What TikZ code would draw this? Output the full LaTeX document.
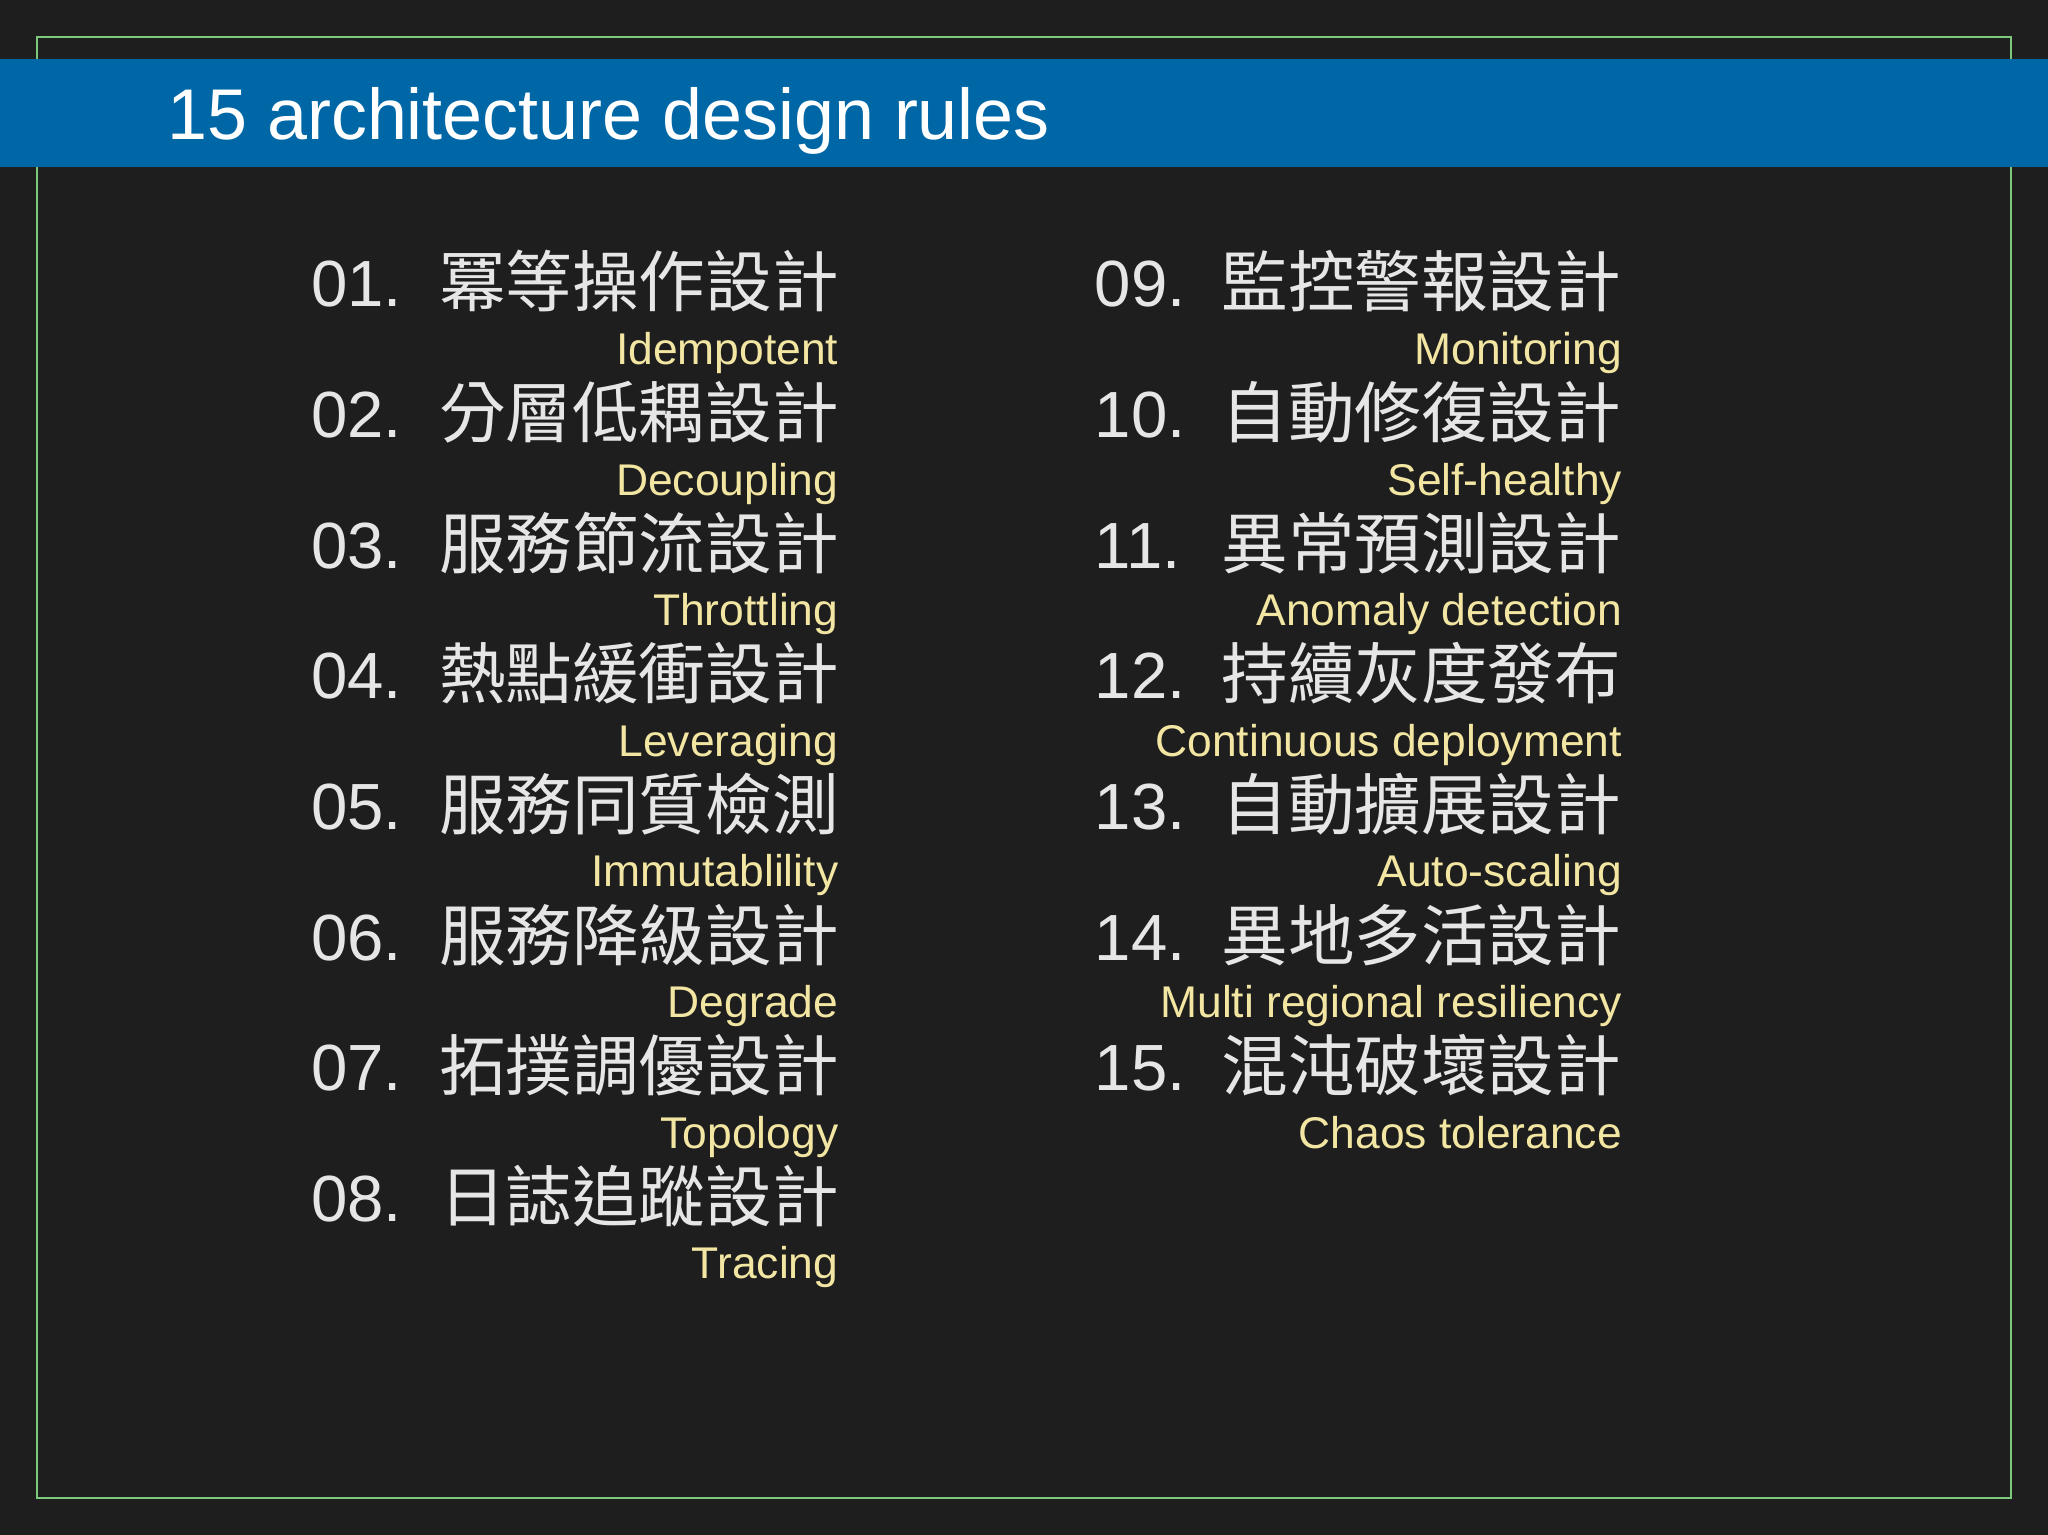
\documentclass[tikz,border=0pt]{standalone}
\usepackage{fontspec}
\setmainfont{Liberation Sans}
\newfontfamily\cjk{Noto Sans CJK TC}
\definecolor{bg}{HTML}{1E1E1F}
\definecolor{bar}{HTML}{0067A7}
\definecolor{frame}{HTML}{7CC87C}
\definecolor{num}{HTML}{E6E6E6}
\definecolor{eng}{HTML}{F2E6A2}
\begin{document}
\begin{tikzpicture}[x=1pt,y=-1pt,
  numtxt/.style={anchor=base west,inner sep=0,text=num,font=\fontsize{50}{50}\selectfont},
  zhtxt/.style={anchor=base west,inner sep=0,text=num,font=\cjk\fontsize{51}{51}\selectfont},
  entxt/.style={anchor=base east,inner sep=0,text=eng,font=\fontsize{34}{34}\selectfont}]
\fill[bg] (0,0) rectangle (1568,1175);
\useasboundingbox (0,0) rectangle (1568,1175);
\draw[frame,line width=1.5pt] (28,28) rectangle (1540,1147);
\fill[bar] (0,45) rectangle (1568,128);
\node[anchor=base west,inner sep=0,text=white,font=\fontsize{55}{55}\selectfont] (title) at (128,107) {15 architecture design rules};
\foreach \i/\n/\z/\e in {0/01./冪等操作設計/Idempotent,1/02./分層低耦設計/Decoupling,2/03./服務節流設計/Throttling,3/04./熱點緩衝設計/Leveraging,4/05./服務同質檢測/Immutablility,5/06./服務降級設計/Degrade,6/07./拓撲調優設計/Topology,7/08./日誌追蹤設計/Tracing}{
  \node[numtxt] (ln\i) at (238,{235+100*\i}) {\n};
  \node[zhtxt] (lz\i) at (336,{235+100*\i}) {\z};
  \node[entxt] (le\i) at (642,{279+100*\i}) {\e};
}
\foreach \i/\n/\z/\e in {0/09./監控警報設計/Monitoring,1/10./自動修復設計/Self-healthy,2/11./異常預測設計/Anomaly detection,3/12./持續灰度發布/Continuous deployment,4/13./自動擴展設計/Auto-scaling,5/14./異地多活設計/Multi regional resiliency,6/15./混沌破壞設計/Chaos tolerance}{
  \node[numtxt] (rn\i) at (838,{235+100*\i}) {\n};
  \node[zhtxt] (rz\i) at (935,{235+100*\i}) {\z};
  \node[entxt] (re\i) at (1242,{279+100*\i}) {\e};
}
\end{tikzpicture}
\end{document}
